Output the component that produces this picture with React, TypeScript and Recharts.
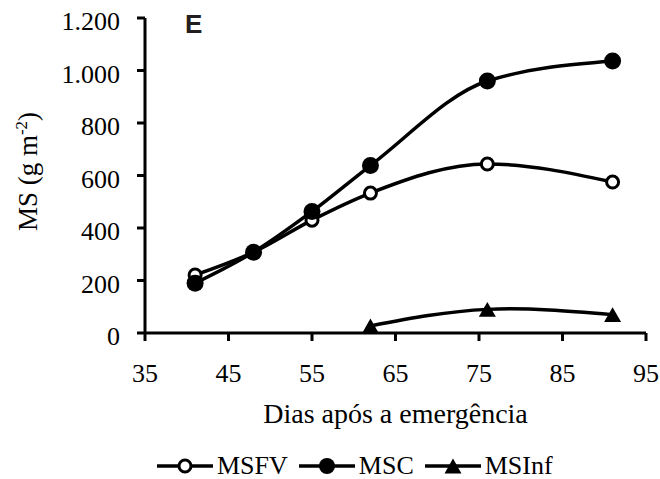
import React from "react";
import { LineChart, Line, XAxis, YAxis, Legend } from "recharts";

// dias após a emergência
const days = [41, 48, 55, 62, 76, 91];
const msfv = [221, 308, 430, 533, 644, 575];
const msc = [190, 308, 463, 638, 960, 1036];
const msinf: (number | null)[] = [null, null, null, 27, 90, 70];

const xTicks = [35, 45, 55, 65, 75, 85, 95];
const yTicks = [0, 200, 400, 600, 800, 1000, 1200];

const data = days.map((d, i) => ({ day: d, MSFV: msfv[i], MSC: msc[i], MSInf: msinf[i] }));

const SERIF = "'Liberation Serif', 'Times New Roman', serif";

const fmt = (v: number) => String(v).replace(/\B(?=(\d{3})+(?!\d))/g, ".");

const YTick = ({ x, y, payload }: any) => (
  <text x={x} y={y + 3} dy="0.355em" textAnchor="end" fontFamily={SERIF} fontSize={26} fill="#000">
    {fmt(payload.value)}
  </text>
);

const YTitle = ({ viewBox }: any) => {
  const cy = viewBox.y + viewBox.height / 2 - 4;
  const bx = 37;
  return (
    <text
      x={bx}
      y={cy}
      transform={`rotate(-90, ${bx}, ${cy})`}
      textAnchor="middle"
      fontFamily={SERIF}
      fontSize={27}
      fill="#000"
    >
      MS (g m
      <tspan dy={-10} fontSize={17}>
        -2
      </tspan>
      <tspan dy={10}>)</tspan>
    </text>
  );
};

const Triangle = ({ cx, cy, size = 17 }: any) => {
  if (cx == null || cy == null) return null;
  const h = size * 0.88;
  return (
    <polygon
      points={`${cx},${cy - h / 2} ${cx + size / 2},${cy + h / 2} ${cx - size / 2},${cy + h / 2}`}
      fill="#000"
    />
  );
};

const legendItems = [
  { name: "MSFV", marker: "open" },
  { name: "MSC", marker: "filled" },
  { name: "MSInf", marker: "tri" },
];

const LegendMarker = ({ kind }: { kind: string }) => (
  <svg width={56} height={26} style={{ display: "block" }}>
    <line x1={0} y1={13} x2={56} y2={13} stroke="#000" strokeWidth={3.5} />
    {kind === "open" && <circle cx={28} cy={13} r={6} fill="#fff" stroke="#000" strokeWidth={3} />}
    {kind === "filled" && <circle cx={28} cy={13} r={8} fill="#000" />}
    {kind === "tri" && <Triangle cx={28} cy={13} size={17} />}
  </svg>
);

const renderLegend = () => (
  <div style={{ display: "flex", alignItems: "flex-start", height: 26, paddingLeft: 157 }}>
    {legendItems.map((it) => (
      <div key={it.name} style={{ display: "flex", alignItems: "flex-start", marginRight: 11 }}>
        <LegendMarker kind={it.marker} />
        <span
          style={{
            fontFamily: SERIF,
            fontSize: 26,
            lineHeight: "26px",
            marginLeft: 4,
            color: "#000",
          }}
        >
          {it.name}
        </span>
      </div>
    ))}
  </div>
);

export default function App() {
  return (
    <div style={{ position: "absolute", left: 0, top: 0, width: 660, height: 479, background: "#fff" }}>
      <LineChart width={660} height={479} data={data} margin={{ top: 18, right: 14, left: 0, bottom: 0 }}>
        <XAxis
          dataKey="day"
          type="number"
          domain={[35, 95]}
          ticks={xTicks}
          height={120}
          axisLine={{ stroke: "#000", strokeWidth: 3 }}
          tickLine={{ stroke: "#000", strokeWidth: 3 }}
          tickSize={8}
          tickMargin={23}
          tick={{ fontFamily: SERIF, fontSize: 26, fill: "#000" }}
          label={{
            value: "Dias após a emergência",
            position: "insideBottom",
            offset: 30,
            fontFamily: SERIF,
            fontSize: 28,
            fill: "#000",
          }}
        />
        <YAxis
          type="number"
          domain={[0, 1200]}
          ticks={yTicks}
          width={145}
          axisLine={{ stroke: "#000", strokeWidth: 3 }}
          tickLine={{ stroke: "#000", strokeWidth: 3 }}
          tickSize={8}
          tickMargin={17}
          tick={<YTick />}
          label={{ content: <YTitle /> }}
        />
        <Legend verticalAlign="bottom" content={renderLegend} wrapperStyle={{ left: 0, width: 660 }} />
        <Line
          type="monotone"
          dataKey="MSFV"
          stroke="#000"
          strokeWidth={3.5}
          dot={{ r: 6, fill: "#fff", stroke: "#000", strokeWidth: 3 }}
          activeDot={false}
          isAnimationActive={false}
        />
        <Line
          type="monotone"
          dataKey="MSC"
          stroke="#000"
          strokeWidth={3.5}
          dot={{ r: 8.5, fill: "#000", stroke: "#000", strokeWidth: 0 }}
          activeDot={false}
          isAnimationActive={false}
        />
        <Line
          type="natural"
          dataKey="MSInf"
          stroke="#000"
          strokeWidth={3.5}
          dot={(p: any) => <Triangle key={p.index} cx={p.cx} cy={p.cy} size={17} />}
          activeDot={false}
          isAnimationActive={false}
        />
        <text x={185} y={33} fontFamily="'Liberation Sans', Arial, sans-serif" fontWeight="bold" fontSize={26} fill="#231f20">
          E
        </text>
      </LineChart>
    </div>
  );
}
